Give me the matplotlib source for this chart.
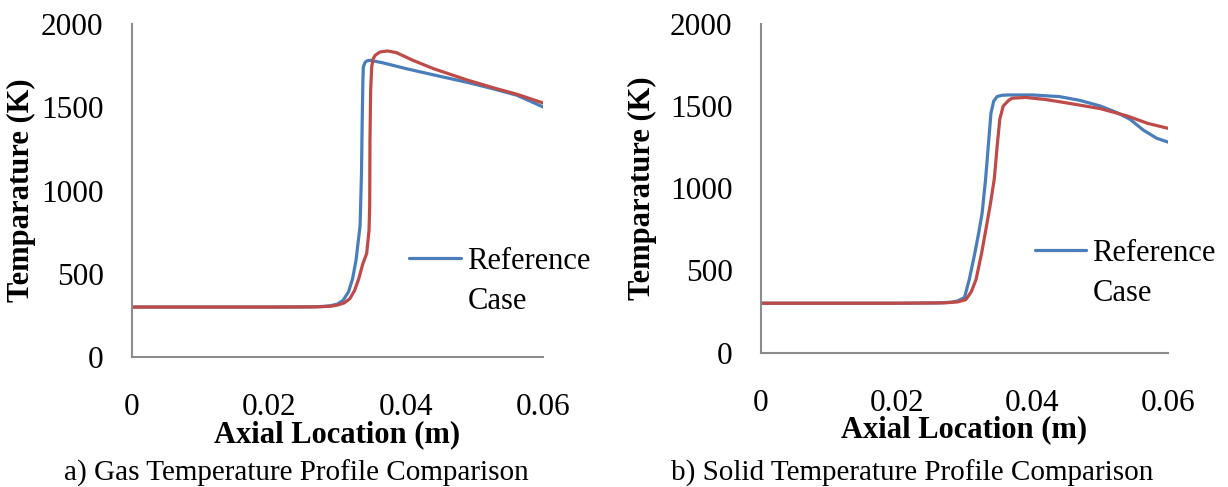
import matplotlib
matplotlib.use("Agg")
import matplotlib.pyplot as plt
from matplotlib.lines import Line2D

plt.rcParams["font.family"] = ["Liberation Serif", "DejaVu Serif"]

# Gas temperature profiles (axial location in m, temperature in K)
gas_ref_x = [0.0, 0.010, 0.020, 0.026, 0.028, 0.029, 0.030, 0.0308, 0.0316, 0.0322,
             0.0327, 0.0331, 0.0333, 0.0335, 0.0336, 0.0337, 0.03377, 0.0340, 0.03426,
             0.0348, 0.0367, 0.040, 0.0445, 0.0489, 0.0530, 0.0562, 0.060]
gas_ref_t = [300, 300, 300, 301, 304, 308, 318, 340, 390, 470,
             580, 720, 790, 1100, 1400, 1650, 1742, 1768, 1778,
             1782, 1766, 1732, 1690, 1650, 1608, 1572, 1502]

gas_new_x = [0.0, 0.010, 0.020, 0.027, 0.029, 0.030, 0.031, 0.0318, 0.0325, 0.0331,
             0.0337, 0.03426, 0.0346, 0.0347, 0.03474, 0.03484, 0.03499, 0.0352,
             0.0355, 0.0362, 0.0373, 0.0386, 0.0410, 0.0440, 0.0489, 0.0530, 0.0562,
             0.060]
gas_new_t = [300, 300, 300, 301, 305, 312, 325, 350, 400, 470,
             560, 622, 760, 902, 1302, 1602, 1742, 1790,
             1812, 1832, 1838, 1828, 1782, 1732, 1664, 1614, 1578, 1526]

# Solid temperature profiles
solid_ref_x = [0.0, 0.010, 0.020, 0.026, 0.028, 0.029, 0.030, 0.0307, 0.0315, 0.0321,
               0.0326, 0.0331, 0.0335, 0.0339, 0.0343, 0.0348, 0.0355, 0.0365, 0.040,
               0.044, 0.047, 0.050, 0.0525, 0.0544, 0.0563, 0.0583, 0.060]
solid_ref_t = [300, 300, 300, 302, 306, 314, 335, 444, 600, 730,
               849, 1052, 1254, 1457, 1530, 1558, 1566, 1568, 1568,
               1558, 1535, 1501, 1460, 1420, 1356, 1305, 1281]

solid_new_x = [0.0, 0.010, 0.020, 0.027, 0.029, 0.0302, 0.031, 0.0317, 0.0325, 0.0332,
               0.0338, 0.0344, 0.0348, 0.0352, 0.0357, 0.0365, 0.037, 0.039, 0.042,
               0.045, 0.050, 0.054, 0.057, 0.060]
solid_new_t = [300, 300, 300, 302, 308, 322, 370, 444, 600, 760,
               900, 1060, 1250, 1420, 1500, 1535, 1548, 1553, 1540,
               1520, 1485, 1440, 1395, 1365]

x_ticks = [0, 0.02, 0.04, 0.06]
x_tick_labels = ["0", "0.02", "0.04", "0.06"]
y_ticks = [0, 500, 1000, 1500, 2000]

legend_labels = ["Reference", "Case"]
captions = ["a) Gas Temperature Profile Comparison",
            "b) Solid Temperature Profile Comparison"]

BLUE = "#4A7EBB"
RED = "#BE4B48"
GRAY = "#8C8C8C"
TICK_FS = 22.5
LABEL_FS = 22
LEGEND_FS = 22
CAPTION_FS = 21

fig = plt.figure(figsize=(12.28, 4.87), dpi=100)
ax_gas = fig.add_axes([132 / 1228, 1 - 357 / 487, 411 / 1228, 333 / 487])
ax_sol = fig.add_axes([761 / 1228, 1 - 352.5 / 487, 407 / 1228, 328.5 / 487])

panels = [
    (ax_gas, gas_ref_x, gas_ref_t, gas_new_x, gas_new_t, (0.675, 0.33), -0.234),
    (ax_sol, solid_ref_x, solid_ref_t, solid_new_x, solid_new_t, (0.672, 0.345), -0.256),
]

for ax, rx, rt, nx, nt, leg_pos, ylab_x in panels:
    ref_line, = ax.plot(rx, rt, color=BLUE, lw=2.3, solid_joinstyle="round",
                        solid_capstyle="round")
    ax.plot(nx, nt, color=RED, lw=2.3, solid_joinstyle="round",
            solid_capstyle="round")
    ax.set_xlim(0, 0.06)
    ax.set_ylim(0, 2000)
    ax.set_xticks(x_ticks)
    ax.set_xticklabels(x_tick_labels)
    ax.set_yticks(y_ticks)
    ax.tick_params(axis="both", length=0, labelsize=TICK_FS)
    ax.tick_params(axis="x", pad=26)
    ax.tick_params(axis="y", pad=20.5)
    for side in ("top", "right"):
        ax.spines[side].set_visible(False)
    for side in ("left", "bottom"):
        ax.spines[side].set_color(GRAY)
        ax.spines[side].set_linewidth(1.5)
    ax.set_xlabel("Axial Location (m)", fontsize=LABEL_FS, fontweight="bold")
    ax.xaxis.set_label_coords(0.5, -0.19)
    ax.set_ylabel("Temparature (K)", fontsize=LABEL_FS, fontweight="bold")
    ax.yaxis.set_label_coords(ylab_x, 0.5)

    blank = Line2D([], [], color="none")
    ax.legend([ref_line, blank], legend_labels, loc="upper left",
              bbox_to_anchor=leg_pos, frameon=False, fontsize=LEGEND_FS,
              handlelength=1.7, handletextpad=0.2, labelspacing=0.35,
              borderpad=0, borderaxespad=0)
    ax.get_legend().set_clip_on(False)

fig.text(296 / 1228, 1 - 481 / 487, captions[0], ha="center", va="baseline",
         fontsize=CAPTION_FS)
fig.text(912 / 1228, 1 - 481 / 487, captions[1], ha="center", va="baseline",
         fontsize=CAPTION_FS)

fig.savefig("out.png", dpi=100, facecolor="white")
